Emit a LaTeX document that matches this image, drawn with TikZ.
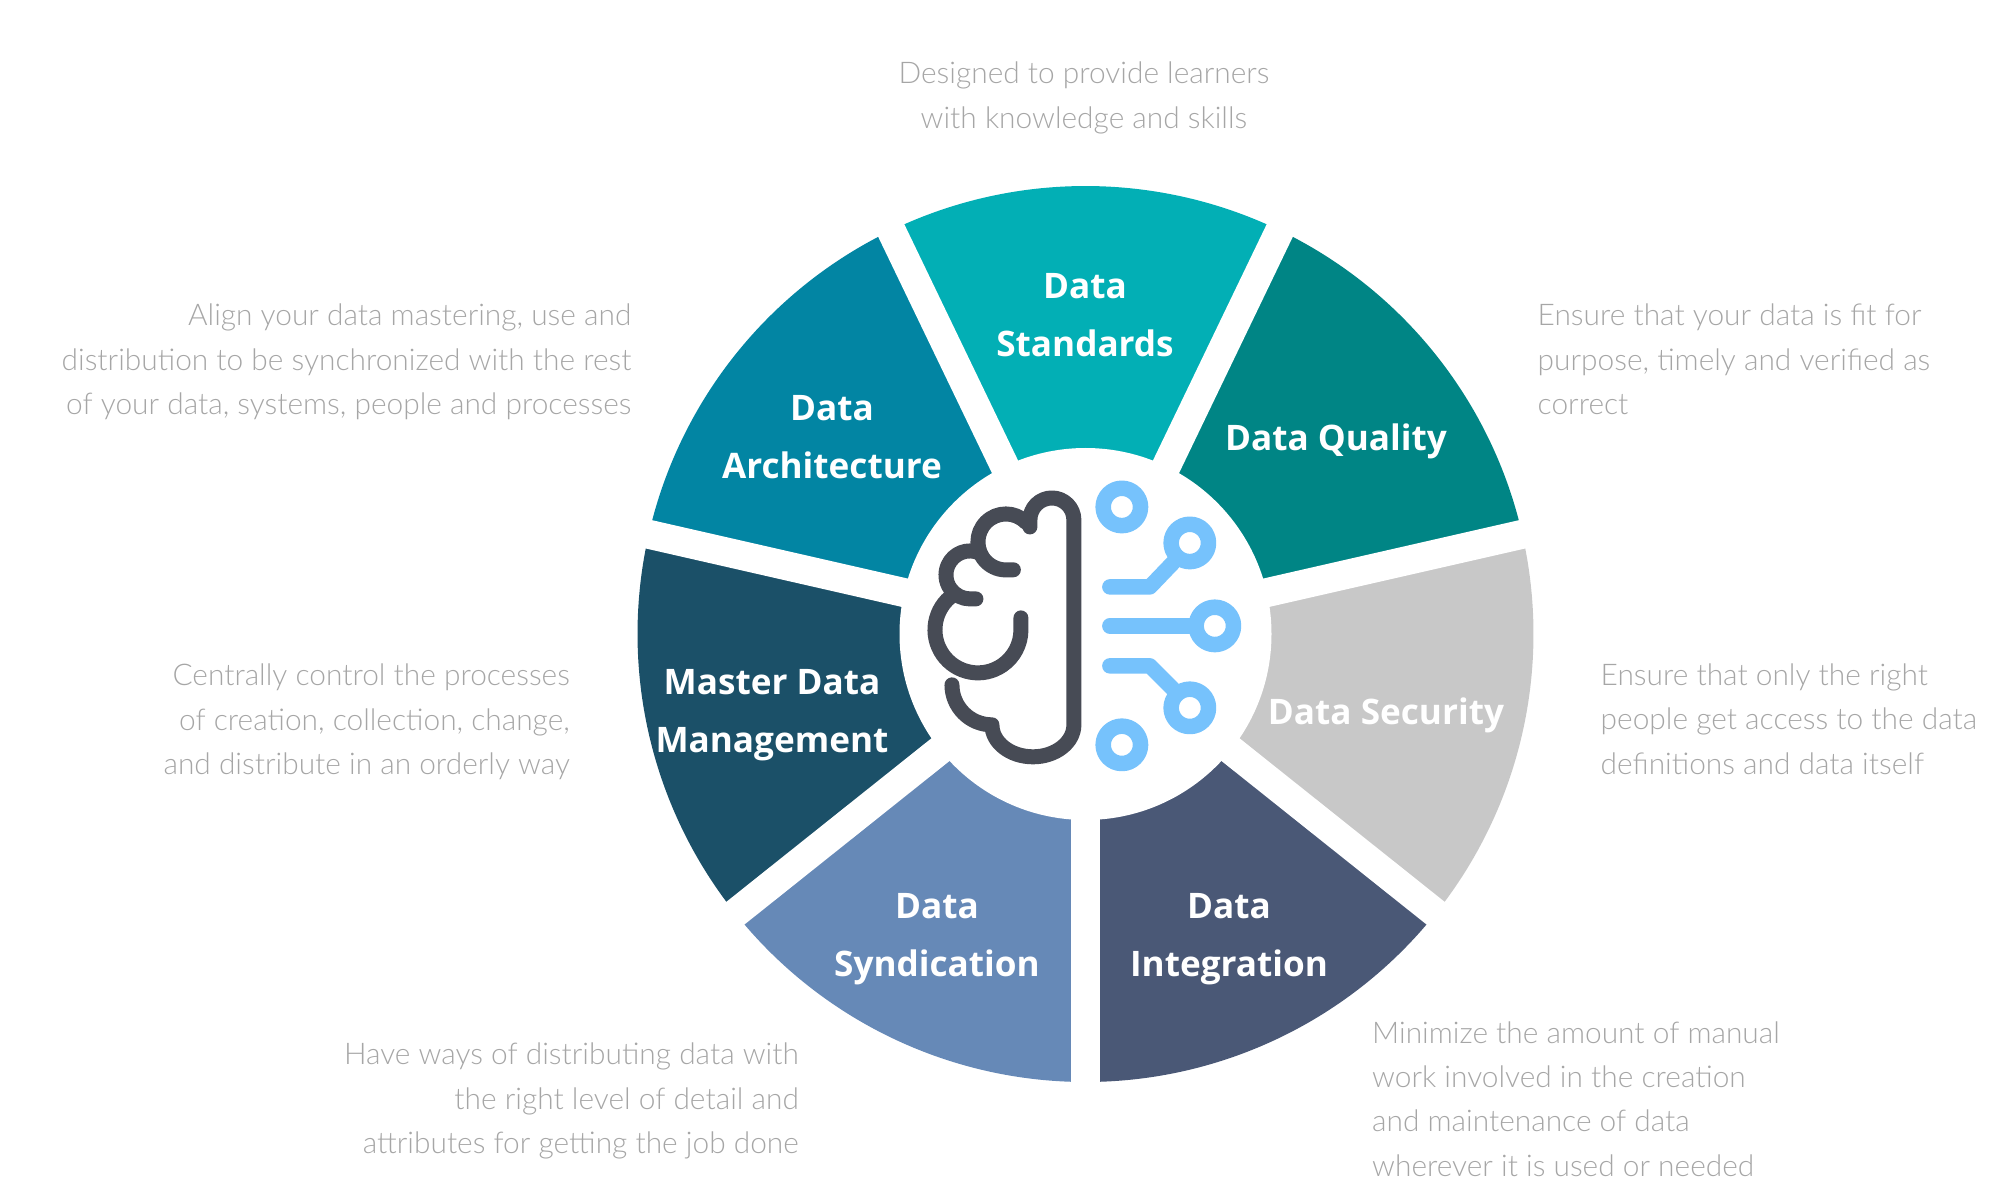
\documentclass[tikz,border=0pt]{standalone}
\usepackage{fontspec}
\setmainfont{Lato}
\newfontfamily\labelfont{Open Sans}
\newfontfamily\descfont{Lato Light}
\usetikzlibrary{positioning,calc}
\definecolor{stdcol}{HTML}{02AFB5}
\definecolor{qualcol}{HTML}{008585}
\definecolor{seccol}{HTML}{C8C8C8}
\definecolor{intcol}{HTML}{4A5876}
\definecolor{syncol}{HTML}{6689B7}
\definecolor{mdmcol}{HTML}{1B5068}
\definecolor{archcol}{HTML}{0285A3}
\definecolor{braincol}{HTML}{474B55}
\definecolor{circcol}{HTML}{76C2FC}
\definecolor{desccol}{HTML}{A6A6A6}
\edef\radout{4.48}
\edef\radin{1.86}
\tikzstyle{seglabel}=[text=white,font=\labelfont\bfseries\fontsize{10}{16.4}\selectfont,align=center]
\tikzstyle{desc}=[text=desccol,font=\descfont\fontsize{8.5}{12.6}\selectfont,inner sep=0pt]
\tikzstyle{gap}=[white,line width=0.29cm]
\tikzstyle{brain}=[draw=braincol,line width=0.15cm,line cap=round,line join=round]
\tikzstyle{circuit}=[draw=circcol,line width=0.155cm,line cap=round,line join=round]

\begin{document}
\begin{tikzpicture}
	\useasboundingbox (0,0) rectangle (20,12);
	\coordinate (c) at (10.855,5.66);

	% ring segments
	\fill[stdcol] (c) -- ++(64.29:\radout) arc[start angle=64.29,end angle=115.71,radius=\radout] -- cycle;
	\fill[archcol] (c) -- ++(115.71:\radout) arc[start angle=115.71,end angle=167.14,radius=\radout] -- cycle;
	\fill[mdmcol] (c) -- ++(167.14:\radout) arc[start angle=167.14,end angle=218.57,radius=\radout] -- cycle;
	\fill[syncol] (c) -- ++(218.57:\radout) arc[start angle=218.57,end angle=270,radius=\radout] -- cycle;
	\fill[intcol] (c) -- ++(270:\radout) arc[start angle=270,end angle=321.43,radius=\radout] -- cycle;
	\fill[seccol] (c) -- ++(321.43:\radout) arc[start angle=321.43,end angle=372.86,radius=\radout] -- cycle;
	\fill[qualcol] (c) -- ++(12.86:\radout) arc[start angle=12.86,end angle=64.29,radius=\radout] -- cycle;

	% white gaps and hub
	\draw[gap] (c) -- ++(12.86:4.7);
	\draw[gap] (c) -- ++(64.29:4.7);
	\draw[gap] (c) -- ++(115.71:4.7);
	\draw[gap] (c) -- ++(167.14:4.7);
	\draw[gap] (c) -- ++(218.57:4.7);
	\draw[gap] (c) -- ++(270:4.7);
	\draw[gap] (c) -- ++(321.43:4.7);
	\fill[white] (c) circle[radius=\radin];

	\node[seglabel] (std) at ($(c)+(-0.005,3.19)$) {Data\\Standards};
	\node[seglabel] (qual) at ($(c)+(2.505,1.93)$) {Data Quality};
	\node[seglabel] (sec) at ($(c)+(3.005,-0.81)$) {Data Security};
	\node[seglabel] (int) at ($(c)+(1.435,-3.05)$) {Data\\Integration};
	\node[seglabel] (syn) at ($(c)+(-1.485,-3.05)$) {Data\\Syndication};
	\node[seglabel] (mdm) at ($(c)+(-3.135,-0.81)$) {Master Data\\Management};
	\node[seglabel] (arch) at ($(c)+(-2.535,1.97)$) {Data\\Architecture};

	% brain and circuit icon
	\begin{scope}[shift={(8.80,7.60)},x=0.01cm,y=0.01cm]
	\draw[brain] (72,-245) arc[start angle=180,end angle=270,radius=40] arc[start angle=180,end angle=360,x radius=41,y radius=32] -- (194,-80) arc[start angle=0,end angle=180,radius=22] -- ++(0,-7);
	\draw[brain] (126,-102) ++(45:28) arc[start angle=45,end angle=275,radius=28] -- ++(5,0);
	\draw[brain] (90,-135) ++(66:24) arc[start angle=66,end angle=270,radius=24] -- ++(6,0);
	\draw[brain] (98,-190) ++(125:43) arc[start angle=125,end angle=360,radius=43] -- ++(0,12);
	\draw[circuit] (242,-67) circle[radius=18.7];
	\draw[circuit] (310,-103) circle[radius=18.7];
	\draw[circuit] (335,-186) circle[radius=18.7];
	\draw[circuit] (310,-268) circle[radius=18.7];
	\draw[circuit] (242,-305) circle[radius=18.7];
	\draw[circuit] (230,-147) -- (270,-147) -- (293,-123);
	\draw[circuit] (230,-186) -- (309,-186);
	\draw[circuit] (230,-226) -- (270,-226) -- (293,-249);
	\end{scope}

	% descriptions
	\node[desc,align=center] (dstd) at (10.84,11.02) {Designed to provide learners\\with knowledge and skills};
	\node[desc,align=left,anchor=west] (dqual) at (15.37,8.405) {Ensure that your data is fit for\\purpose, timely and verified as\\correct};
	\node[desc,align=left,anchor=west] (dsec) at (16.00,4.81) {Ensure that only the right\\people get access to the data\\definitions and data itself};
	\node[desc,align=left,anchor=west] (dint) at (13.715,1.01) {Minimize the amount of manual\\work involved in the creation\\and maintenance of data\\wherever it is used or needed};
	\node[desc,align=right,anchor=east] (dsyn) at (7.995,0.99) {Have ways of distributing data with\\the right level of detail and\\attributes for getting the job done};
	\node[desc,align=right,anchor=east] (dmdm) at (5.705,4.78) {Centrally control the processes\\of creation, collection, change,\\and distribute in an orderly way};
	\node[desc,align=right,anchor=east] (darch) at (6.32,8.38) {Align your data mastering, use and\\distribution to be synchronized with the rest\\of your data, systems, people and processes};
\end{tikzpicture}
\end{document}
